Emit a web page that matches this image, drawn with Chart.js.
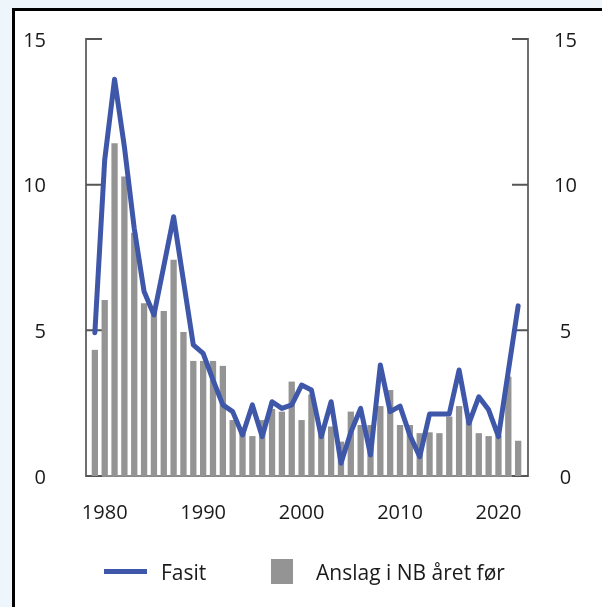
<!DOCTYPE html>
<html>
<head>
<meta charset="utf-8">
<script src="https://cdn.jsdelivr.net/npm/chart.js@4.4.1/dist/chart.umd.min.js"></script>
<style>
  html, body { margin: 0; padding: 0; }
  body { width: 602px; height: 607px; background: #eef6fc; position: relative; overflow: hidden; font-family: "Open Sans", sans-serif; }
  #frame { position: absolute; left: 12px; top: 8px; width: 700px; height: 700px; background: #fff; border-left: 3px solid #000; border-top: 3px solid #000; }
  #chart { position: absolute; left: 0; top: 0; }
  .lg { position: absolute; }
  .lg-text { position: absolute; top: 559px; line-height: 26px; font-size: 21px; color: #1a1a1a; white-space: nowrap; }
</style>
</head>
<body>
<div id="frame"></div>
<canvas id="chart" width="602" height="607"></canvas>
<div class="lg" style="left:104px; top:569px; width:43px; height:5px; background:#3f57a9;"></div>
<div class="lg-text" id="lgLine" style="left:161px;"></div>
<div class="lg" style="left:271px; top:559px; width:22px; height:25px; background:#959495;"></div>
<div class="lg-text" id="lgBar" style="left:316px;"></div>
<script>
// Data
const years = [1979, 1980, 1981, 1982, 1983, 1984, 1985, 1986, 1987, 1988, 1989, 1990, 1991, 1992, 1993, 1994, 1995, 1996, 1997, 1998, 1999,
               2000, 2001, 2002, 2003, 2004, 2005, 2006, 2007, 2008, 2009, 2010, 2011, 2012, 2013, 2014, 2015, 2016, 2017, 2018, 2019, 2020, 2021, 2022];
const fasit = [4.92, 10.85, 13.62, 11.3, 8.5, 6.33, 5.53, 7.2, 8.9, 6.7, 4.5, 4.21, 3.3, 2.44, 2.21, 1.41, 2.44, 1.35, 2.55, 2.32, 2.44,
               3.12, 2.95, 1.35, 2.55, 0.44, 1.5, 2.32, 0.72, 3.81, 2.21, 2.4, 1.4, 0.66, 2.13, 2.13, 2.13, 3.64, 1.81, 2.72, 2.27, 1.35, 3.6, 5.84];
const anslag = [4.33, 6.04, 11.42, 10.28, 8.35, 5.93, 5.8, 5.66, 7.42, 4.94, 3.95, 3.95, 3.95, 3.78, 1.92, 1.47, 1.37, 1.92, 2.3, 2.21, 3.24,
                1.92, 2.8, 1.7, 1.7, 1.18, 2.21, 1.75, 1.75, 2.4, 2.95, 1.75, 1.75, 1.47, 1.5, 1.47, 2.04, 2.4, 1.9, 1.47, 1.37, 1.4, 3.41, 1.21];
const xTicks = [1980, 1990, 2000, 2010, 2020];
const yTicks = [0, 5, 10, 15];
const labels = ['Fasit', 'Anslag i NB året før'];

document.getElementById('lgLine').textContent = labels[0];
document.getElementById('lgBar').textContent = labels[1];

const blue = '#3f57a9';
const grey = '#959495';
const axisGrey = '#6e6e6e';
const tickFont = { family: 'Open Sans', size: 20 };

// short tick marks pointing into the plot on both y axes
const innerTicks = {
    id: 'innerTicks',
    beforeDatasetsDraw(chart) {
        const ctx = chart.ctx;
        const { left, right } = chart.chartArea;
        ctx.save();
        ctx.strokeStyle = '#555';
        ctx.lineWidth = 2;
        yTicks.forEach(v => {
            const py = chart.scales.y.getPixelForValue(v);
            ctx.beginPath();
            ctx.moveTo(left, py);
            ctx.lineTo(left + 16, py);
            ctx.moveTo(right - 16, py);
            ctx.lineTo(right, py);
            ctx.stroke();
        });
        ctx.restore();
    }
};

const ctx = document.getElementById('chart').getContext('2d');
new Chart(ctx, {
    type: 'bar',
    data: {
        datasets: [
            {
                type: 'line',
                label: labels[0],
                data: years.map((yr, i) => ({ x: yr, y: fasit[i] })),
                borderColor: blue,
                borderWidth: 5,
                borderJoinStyle: 'round',
                borderCapStyle: 'round',
                pointRadius: 0,
                tension: 0,
                yAxisID: 'y',
                order: 0
            },
            {
                type: 'bar',
                label: labels[1],
                data: years.map((yr, i) => ({ x: yr, y: anslag[i] })),
                backgroundColor: grey,
                borderWidth: 0,
                categoryPercentage: 0.8,
                barPercentage: 0.8,
                yAxisID: 'y',
                order: 1
            }
        ]
    },
    options: {
        responsive: false,
        animation: false,
        layout: { autoPadding: false, padding: { top: 39, bottom: 81, left: 0, right: 0 } },
        plugins: {
            legend: { display: false },
            tooltip: { enabled: false }
        },
        scales: {
            x: {
                type: 'linear',
                offset: false,
                min: 1978.1,
                max: 2023,
                grid: { display: false, drawTicks: false, offset: false },
                border: { display: true, color: '#8a8a8a', width: 2 },
                ticks: { font: tickFont, color: '#1a1a1a', padding: 25, maxRotation: 0, callback: v => String(v) },
                afterBuildTicks: s => { s.ticks = xTicks.map(v => ({ value: v })); },
                afterFit: s => { s.height = 50; s.paddingLeft = 0; s.paddingRight = 0; }
            },
            y: {
                position: 'left',
                min: 0,
                max: 15,
                grid: { display: false, drawTicks: false },
                border: { display: true, color: axisGrey, width: 2 },
                ticks: { font: tickFont, color: '#1a1a1a', padding: 40, labelOffset: 2 },
                afterBuildTicks: s => { s.ticks = yTicks.map(v => ({ value: v })); },
                afterFit: s => { s.width = 86; s.paddingTop = 0; s.paddingBottom = 0; }
            },
            y2: {
                position: 'right',
                min: 0,
                max: 15,
                grid: { display: false, drawTicks: false },
                border: { display: true, color: axisGrey, width: 2 },
                ticks: { font: tickFont, color: '#1a1a1a', padding: 26, crossAlign: 'center', labelOffset: 2 },
                afterBuildTicks: s => { s.ticks = yTicks.map(v => ({ value: v })); },
                afterFit: s => { s.width = 74; s.paddingTop = 0; s.paddingBottom = 0; }
            }
        }
    },
    plugins: [innerTicks]
});
</script>
</body>
</html>
